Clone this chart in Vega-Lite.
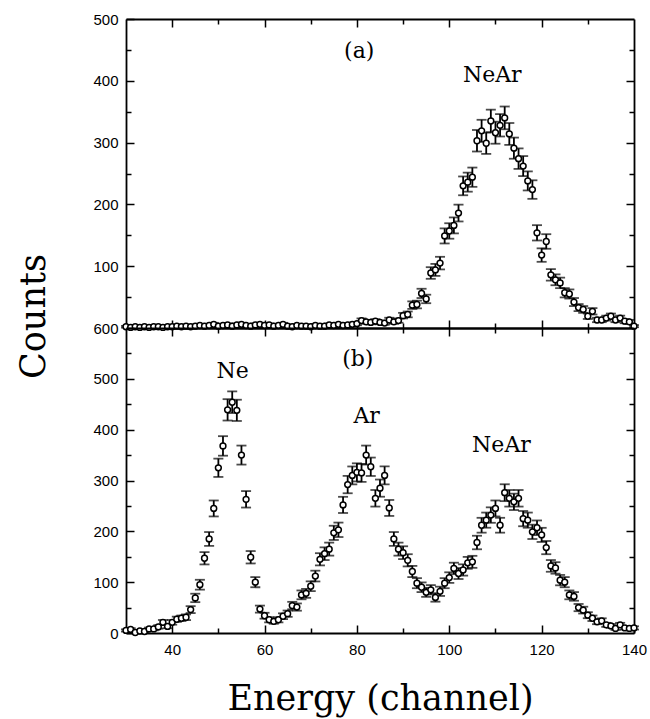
{
  "$schema": "https://vega.github.io/schema/vega-lite/v6.json",
  "autosize": {"type": "pad"},
  "padding": {"left": 15, "top": 12, "right": 15, "bottom": 2},
  "background": "white",
  "bounds": "flush",
  "spacing": 0,
  "datasets": {
    "a": [
      {"c":30,"n":2,"e":1.4},{"c":31,"n":1,"e":1},{"c":32,"n":2,"e":1.4},{"c":33,"n":1,"e":1},{"c":34,"n":2,"e":1.4},{"c":35,"n":1,"e":1},{"c":36,"n":2,"e":1.4},{"c":37,"n":2,"e":1.4},{"c":38,"n":1,"e":1},{"c":39,"n":2,"e":1.4},
      {"c":40,"n":2,"e":1.4},{"c":41,"n":3,"e":1.7},{"c":42,"n":2,"e":1.4},{"c":43,"n":3,"e":1.7},{"c":44,"n":2,"e":1.4},{"c":45,"n":3,"e":1.7},{"c":46,"n":4,"e":2},{"c":47,"n":3,"e":1.7},{"c":48,"n":4,"e":2},{"c":49,"n":6,"e":2.4},
      {"c":50,"n":3,"e":1.7},{"c":51,"n":4,"e":2},{"c":52,"n":5,"e":2.2},{"c":53,"n":3,"e":1.7},{"c":54,"n":5,"e":2.2},{"c":55,"n":6,"e":2.4},{"c":56,"n":4,"e":2},{"c":57,"n":3,"e":1.7},{"c":58,"n":5,"e":2.2},{"c":59,"n":6,"e":2.4},
      {"c":60,"n":4,"e":2},{"c":61,"n":5,"e":2.2},{"c":62,"n":3,"e":1.7},{"c":63,"n":4,"e":2},{"c":64,"n":6,"e":2.4},{"c":65,"n":3,"e":1.7},{"c":66,"n":2,"e":1.4},{"c":67,"n":4,"e":2},{"c":68,"n":3,"e":1.7},{"c":69,"n":3,"e":1.7},
      {"c":70,"n":2,"e":1.4},{"c":71,"n":4,"e":2},{"c":72,"n":3,"e":1.7},{"c":73,"n":3,"e":1.7},{"c":74,"n":5,"e":2.2},{"c":75,"n":4,"e":2},{"c":76,"n":6,"e":2.4},{"c":77,"n":4,"e":2},{"c":78,"n":5,"e":2.2},{"c":79,"n":6,"e":2.4},
      {"c":80,"n":7,"e":2.6},{"c":81,"n":12,"e":3.5},{"c":82,"n":10,"e":3.2},{"c":83,"n":9,"e":3},{"c":84,"n":11,"e":3.3},{"c":85,"n":9,"e":3},{"c":86,"n":8,"e":2.8},{"c":87,"n":13,"e":3.6},{"c":88,"n":10,"e":3.2},{"c":89,"n":12,"e":3.5},
      {"c":90,"n":20,"e":4.5},{"c":91,"n":22,"e":4.7},{"c":92,"n":37,"e":6.1},{"c":93,"n":38,"e":6.2},{"c":94,"n":56,"e":7.5},{"c":95,"n":47,"e":6.9},{"c":96,"n":89,"e":9.4},{"c":97,"n":94,"e":9.7},{"c":98,"n":105,"e":10.2},{"c":99,"n":149,"e":12.2},
      {"c":100,"n":157,"e":12.5},{"c":101,"n":166,"e":12.9},{"c":102,"n":186,"e":13.6},{"c":103,"n":230,"e":15.2},{"c":104,"n":236,"e":15.4},{"c":105,"n":244,"e":15.6},{"c":106,"n":303,"e":17.4},{"c":107,"n":319,"e":17.9},{"c":108,"n":299,"e":17.3},{"c":109,"n":335,"e":18.3},
      {"c":110,"n":316,"e":17.8},{"c":111,"n":328,"e":18.1},{"c":112,"n":340,"e":18.4},{"c":113,"n":314,"e":17.7},{"c":114,"n":291,"e":17.1},{"c":115,"n":274,"e":16.6},{"c":116,"n":262,"e":16.2},{"c":117,"n":238,"e":15.4},{"c":118,"n":224,"e":15},{"c":119,"n":154,"e":12.4},
      {"c":120,"n":118,"e":10.9},{"c":121,"n":140,"e":11.8},{"c":122,"n":86,"e":9.3},{"c":123,"n":78,"e":8.8},{"c":124,"n":73,"e":8.5},{"c":125,"n":57,"e":7.5},{"c":126,"n":55,"e":7.4},{"c":127,"n":42,"e":6.5},{"c":128,"n":33,"e":5.7},{"c":129,"n":30,"e":5.5},
      {"c":130,"n":19,"e":4.4},{"c":131,"n":27,"e":5.2},{"c":132,"n":13,"e":3.6},{"c":133,"n":13,"e":3.6},{"c":134,"n":16,"e":4},{"c":135,"n":19,"e":4.4},{"c":136,"n":13,"e":3.6},{"c":137,"n":16,"e":4},{"c":138,"n":11,"e":3.3},{"c":139,"n":10,"e":3.2},
      {"c":140,"n":3,"e":1.7}
    ],
    "b": [
      {"c":30,"n":5,"e":2.2},{"c":31,"n":7,"e":2.6},{"c":32,"n":1,"e":1},{"c":33,"n":4,"e":2},{"c":34,"n":3,"e":1.7},{"c":35,"n":8,"e":2.8},{"c":36,"n":8,"e":2.8},{"c":37,"n":12,"e":3.5},{"c":38,"n":21,"e":4.6},{"c":39,"n":13,"e":3.6},
      {"c":40,"n":21,"e":4.6},{"c":41,"n":27,"e":5.2},{"c":42,"n":29,"e":5.4},{"c":43,"n":31,"e":5.6},{"c":44,"n":46,"e":6.8},{"c":45,"n":69,"e":8.3},{"c":46,"n":95,"e":9.7},{"c":47,"n":147,"e":12.1},{"c":48,"n":185,"e":13.6},{"c":49,"n":245,"e":15.7},
      {"c":50,"n":325,"e":18},{"c":51,"n":368,"e":19.2},{"c":52,"n":439,"e":21},{"c":53,"n":454,"e":21.3},{"c":54,"n":438,"e":20.9},{"c":55,"n":350,"e":18.7},{"c":56,"n":263,"e":16.2},{"c":57,"n":149,"e":12.2},{"c":58,"n":100,"e":10},{"c":59,"n":47,"e":6.9},
      {"c":60,"n":34,"e":5.8},{"c":61,"n":26,"e":5.1},{"c":62,"n":23,"e":4.8},{"c":63,"n":26,"e":5.1},{"c":64,"n":33,"e":5.7},{"c":65,"n":38,"e":6.2},{"c":66,"n":54,"e":7.3},{"c":67,"n":51,"e":7.1},{"c":68,"n":75,"e":8.7},{"c":69,"n":78,"e":8.8},
      {"c":70,"n":92,"e":9.6},{"c":71,"n":112,"e":10.6},{"c":72,"n":145,"e":12},{"c":73,"n":156,"e":12.5},{"c":74,"n":165,"e":12.8},{"c":75,"n":197,"e":14},{"c":76,"n":203,"e":14.2},{"c":77,"n":252,"e":15.9},{"c":78,"n":292,"e":17.1},{"c":79,"n":310,"e":17.6},
      {"c":80,"n":316,"e":17.8},{"c":81,"n":315,"e":17.7},{"c":82,"n":350,"e":18.7},{"c":83,"n":327,"e":18.1},{"c":84,"n":265,"e":16.3},{"c":85,"n":285,"e":16.9},{"c":86,"n":310,"e":17.6},{"c":87,"n":246,"e":15.7},{"c":88,"n":185,"e":13.6},{"c":89,"n":165,"e":12.8},
      {"c":90,"n":158,"e":12.6},{"c":91,"n":143,"e":12},{"c":92,"n":121,"e":11},{"c":93,"n":98,"e":9.9},{"c":94,"n":90,"e":9.5},{"c":95,"n":80,"e":8.9},{"c":96,"n":85,"e":9.2},{"c":97,"n":70,"e":8.4},{"c":98,"n":82,"e":9.1},{"c":99,"n":98,"e":9.9},
      {"c":100,"n":109,"e":10.4},{"c":101,"n":127,"e":11.3},{"c":102,"n":117,"e":10.8},{"c":103,"n":124,"e":11.1},{"c":104,"n":138,"e":11.7},{"c":105,"n":140,"e":11.8},{"c":106,"n":178,"e":13.3},{"c":107,"n":212,"e":14.6},{"c":108,"n":222,"e":14.9},{"c":109,"n":232,"e":15.2},
      {"c":110,"n":245,"e":15.7},{"c":111,"n":212,"e":14.6},{"c":112,"n":276,"e":16.6},{"c":113,"n":265,"e":16.3},{"c":114,"n":258,"e":16.1},{"c":115,"n":265,"e":16.3},{"c":116,"n":225,"e":15},{"c":117,"n":222,"e":14.9},{"c":118,"n":199,"e":14.1},{"c":119,"n":207,"e":14.4},
      {"c":120,"n":193,"e":13.9},{"c":121,"n":168,"e":13},{"c":122,"n":132,"e":11.5},{"c":123,"n":128,"e":11.3},{"c":124,"n":104,"e":10.2},{"c":125,"n":100,"e":10},{"c":126,"n":75,"e":8.7},{"c":127,"n":72,"e":8.5},{"c":128,"n":50,"e":7.1},{"c":129,"n":45,"e":6.7},
      {"c":130,"n":35,"e":5.9},{"c":131,"n":29,"e":5.4},{"c":132,"n":22,"e":4.7},{"c":133,"n":24,"e":4.9},{"c":134,"n":16,"e":4},{"c":135,"n":14,"e":3.7},{"c":136,"n":9,"e":3},{"c":137,"n":16,"e":4},{"c":138,"n":10,"e":3.2},{"c":139,"n":9,"e":3},
      {"c":140,"n":10,"e":3.2}
    ],
    "la": [
      {"c":80.5,"n":449,"t":"(a)"},
      {"c":109.3,"n":410,"t":"NeAr"}
    ],
    "lb": [
      {"c":53.1,"n":516,"t":"Ne"},
      {"c":80.2,"n":539,"t":"(b)"},
      {"c":82.1,"n":427,"t":"Ar"},
      {"c":111.3,"n":370,"t":"NeAr"}
    ]
  },
  "vconcat": [
    {
      "width": 508,
      "height": 309,
      "layer": [
        {
          "data": {"name": "a"},
          "mark": {"type": "errorbar", "ticks": {"size": 10}, "thickness": 1.8, "color": "black"},
          "encoding": {
            "x": {"field": "c", "type": "quantitative", "scale": {"domain": [30, 140], "nice": false, "zero": false},
              "axis": {"orient": "bottom", "title": null, "values": [40,50,60,70,80,90,100,110,120,130], "labels": false,
                "tickSize": {"condition": {"test": "datum.value % 20 === 0", "value": -8}, "value": -5}}},
            "y": {"field": "n", "type": "quantitative", "scale": {"domain": [0, 500], "nice": false},
              "axis": {"orient": "left", "title": null, "values": [0,50,100,150,200,250,300,350,400,450,500],
                "labelExpr": "datum.value % 100 === 0 && datum.value > 0 ? datum.label : ''",
                "tickSize": {"condition": {"test": "datum.value % 100 === 0", "value": -8}, "value": -5}}},
            "yError": {"field": "e"}
          }
        },
        {
          "data": {"name": "a"},
          "mark": {"type": "point", "shape": "circle", "filled": false, "fill": "white", "stroke": "black", "strokeWidth": 1.5, "size": 34, "opacity": 1},
          "encoding": {
            "x": {"field": "c", "type": "quantitative",
              "axis": {"orient": "top", "title": null, "values": [40,50,60,70,80,90,100,110,120,130], "labels": false,
                "tickSize": {"condition": {"test": "datum.value % 20 === 0", "value": -8}, "value": -5}}},
            "y": {"field": "n", "type": "quantitative",
              "axis": {"orient": "right", "title": null, "values": [50,100,150,200,250,300,350,400,450], "labels": false,
                "tickSize": {"condition": {"test": "datum.value % 100 === 0", "value": -8}, "value": -5}}}
          }
        },
        {
          "data": {"name": "la"},
          "mark": {"type": "text", "font": "DejaVu Serif", "fontSize": 22, "color": "black", "align": "center", "baseline": "middle"},
          "encoding": {
            "x": {"field": "c", "type": "quantitative", "axis": null},
            "y": {"field": "n", "type": "quantitative", "axis": null},
            "text": {"field": "t"}
          }
        }
      ],
      "resolve": {"axis": {"x": "independent", "y": "independent"}}
    },
    {
      "width": 508,
      "height": 305,
      "layer": [
        {
          "data": {"name": "b"},
          "mark": {"type": "errorbar", "ticks": {"size": 10}, "thickness": 1.8, "color": "black"},
          "encoding": {
            "x": {"field": "c", "type": "quantitative", "scale": {"domain": [30, 140], "nice": false, "zero": false},
              "axis": {"orient": "bottom", "title": "Energy (channel)", "values": [40,50,60,70,80,90,100,110,120,130,140],
                "labelExpr": "datum.value % 20 === 0 ? datum.label : ''", "labelPadding": 17,
                "tickSize": {"condition": {"test": "datum.value % 20 === 0", "value": -8}, "value": -5},
                "titleY": 65, "titleBaseline": "middle"}},
            "y": {"field": "n", "type": "quantitative", "scale": {"domain": [0, 600], "nice": false},
              "axis": {"orient": "left", "title": "Counts", "values": [0,50,100,150,200,250,300,350,400,450,500,550,600],
                "labelExpr": "datum.value % 100 === 0 ? datum.label : ''",
                "tickSize": {"condition": {"test": "datum.value % 100 === 0", "value": -8}, "value": -5},
                "titleX": -93, "titleY": -12, "titleAlign": "center", "titleBaseline": "middle", "titleAngle": -90}},
            "yError": {"field": "e"}
          }
        },
        {
          "data": {"name": "b"},
          "mark": {"type": "point", "shape": "circle", "filled": false, "fill": "white", "stroke": "black", "strokeWidth": 1.5, "size": 34, "opacity": 1},
          "encoding": {
            "x": {"field": "c", "type": "quantitative",
              "axis": {"orient": "top", "title": null, "values": [40,50,60,70,80,90,100,110,120,130], "labels": false,
                "tickSize": {"condition": {"test": "datum.value % 20 === 0", "value": -8}, "value": -5}}},
            "y": {"field": "n", "type": "quantitative",
              "axis": {"orient": "right", "title": null, "values": [50,100,150,200,250,300,350,400,450,500,550], "labels": false,
                "tickSize": {"condition": {"test": "datum.value % 100 === 0", "value": -8}, "value": -5}}}
          }
        },
        {
          "data": {"name": "lb"},
          "mark": {"type": "text", "font": "DejaVu Serif", "fontSize": 22, "color": "black", "align": "center", "baseline": "middle"},
          "encoding": {
            "x": {"field": "c", "type": "quantitative", "axis": null},
            "y": {"field": "n", "type": "quantitative", "axis": null},
            "text": {"field": "t"}
          }
        }
      ],
      "resolve": {"axis": {"x": "independent", "y": "independent"}}
    }
  ],
  "config": {
    "view": {"stroke": null},
    "axis": {
      "domainColor": "black", "domainWidth": 1.8, "tickColor": "black", "tickWidth": 1.5,
      "labelFont": "Liberation Sans", "labelFontSize": 15, "labelColor": "black", "labelPadding": 16,
      "labelOverlap": false, "labelFlush": false, "grid": false,
      "titleFont": "DejaVu Serif", "titleFontSize": 35, "titleFontWeight": "normal", "titleColor": "black"
    }
  }
}
